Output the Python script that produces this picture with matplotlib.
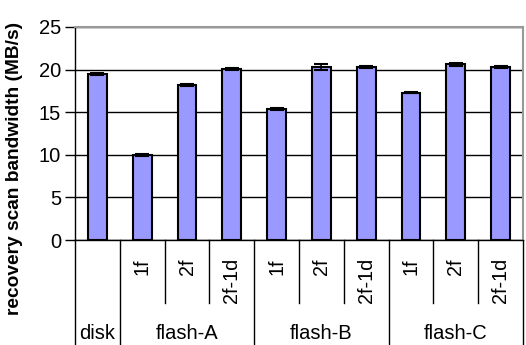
import matplotlib.pyplot as plt
import numpy as np

plt.rcParams["font.family"] = ["Liberation Sans", "DejaVu Sans"]

groups = ["disk", "flash-A", "flash-B", "flash-C"]
group_sizes = [1, 3, 3, 3]
sublabels = ["", "1f", "2f", "2f-1d", "1f", "2f", "2f-1d", "1f", "2f", "2f-1d"]
values = [19.5, 10.0, 18.2, 20.1, 15.4, 20.3, 20.3, 17.3, 20.6, 20.3]
errors = [0.1, 0.1, 0.1, 0.1, 0.1, 0.35, 0.15, 0.1, 0.15, 0.15]

fig = plt.figure(figsize=(5.26, 3.45), dpi=100)
ax = fig.add_axes([75 / 526, 1 - 240 / 345, 448 / 526, 213 / 345])

x = np.arange(len(values))
ax.bar(x, values, width=0.42, color="#9999FF", edgecolor="black", linewidth=1.5, zorder=3)
ax.errorbar(x, values, yerr=errors, fmt="none", ecolor="black", elinewidth=1.2,
            capsize=5, capthick=1.5, zorder=4)

ax.set_xlim(-0.5, len(values) - 0.5)
ax.set_ylim(0, 25)
ax.set_yticks([0, 5, 10, 15, 20, 25])
ax.tick_params(axis="y", labelsize=14.5, length=7, width=1, direction="out", pad=3)
ax.set_xticks([])
ax.yaxis.grid(True, color="black", linewidth=1)
ax.set_axisbelow(True)
for s in ("top", "right"):
    ax.spines[s].set_color("#999999")
    ax.spines[s].set_linewidth(1.5)
ax.spines["left"].set_linewidth(1)
ax.spines["bottom"].set_linewidth(1)

fig.text(15 / 526, 1 - 168 / 345, "recovery scan bandwidth (MB/s)", rotation=90,
         ha="center", va="center", fontsize=13.8, fontweight="bold")

# category table below axis
tr = ax.get_xaxis_transform()
bounds = np.cumsum([0] + group_sizes) - 0.5
for b in bounds:
    ax.plot([b, b], [0, -0.5], transform=tr, color="black", lw=1, clip_on=False)
for i, lab in enumerate(sublabels):
    if lab:
        if i - 0.5 not in bounds:
            ax.plot([i - 0.5, i - 0.5], [0, -0.296], transform=tr, color="black", lw=1, clip_on=False)
        ax.text(i, -0.085, lab, transform=tr, rotation=90, ha="center", va="top", fontsize=14.2)
for g, lo, hi in zip(groups, bounds[:-1], bounds[1:]):
    ax.text((lo + hi) / 2, -0.437, g, transform=tr, ha="center", va="center", fontsize=14.5)

fig.savefig("out.png", dpi=100)
